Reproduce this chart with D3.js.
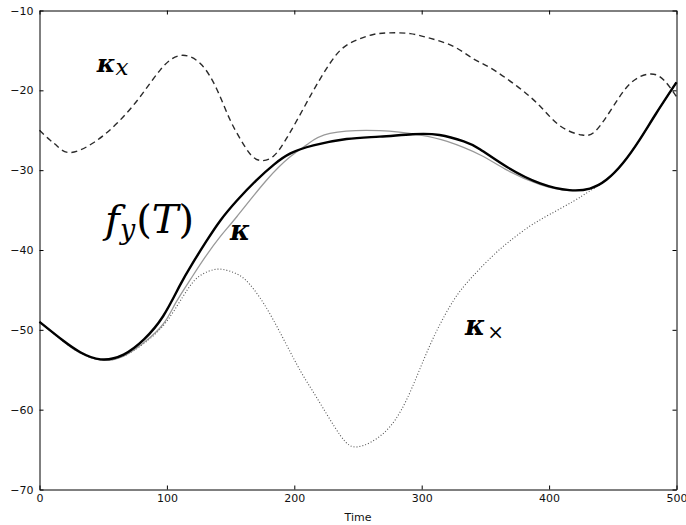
<!DOCTYPE html>
<html>
<head>
<meta charset="utf-8">
<script src="https://cdn.jsdelivr.net/npm/d3@7"></script>
<style>
  body { margin: 0; background: #fff; }
  .axis text { font-family: "DejaVu Sans", sans-serif; font-size: 11px; fill: #111; }
  .axis path, .axis line { stroke: #000; }
</style>
</head>
<body>
<svg id="chart"></svg>
<script>
// dashed curve (kappa_x)
const kxTime = [0, 8, 14, 24, 42, 61, 79, 95, 110, 126, 139, 149, 158, 166, 174, 184, 194, 204, 214, 224, 236, 249, 262, 275, 291, 307, 325, 340, 354, 375, 393, 409, 426, 437, 450, 464, 479, 490, 500];
const kxVal  = [-25.0, -26.2, -27.0, -27.8, -26.6, -24.1, -20.8, -17.4, -15.65, -16.6, -19.8, -23.5, -26.2, -28.1, -28.8, -28.2, -26.0, -23.2, -20.3, -17.6, -15.0, -13.7, -13.0, -12.8, -12.9, -13.5, -14.5, -16.0, -17.2, -19.5, -22.0, -24.5, -25.6, -25.0, -22.1, -19.1, -17.95, -18.7, -20.8];

// thick black curve f_y(T)
const fyTime = [0, 19, 32, 48, 66, 82, 97, 110, 120, 131, 142, 155, 170, 184, 197, 215, 241, 267, 293, 314, 333, 346, 367, 393, 416, 432, 445, 458, 471, 484, 500];
const fyVal  = [-49.0, -51.4, -52.8, -53.7, -53.1, -51.2, -48.3, -44.5, -41.7, -38.9, -36.3, -33.8, -31.3, -29.3, -27.9, -26.9, -26.1, -25.8, -25.5, -25.6, -26.4, -27.4, -29.6, -31.65, -32.5, -32.3, -31.2, -29.1, -26.2, -22.9, -19.0];

// thin grey curve (kappa)
const kTime = [0, 19, 32, 49, 66, 82, 97, 107, 118, 130, 142, 155, 178, 197, 210, 228, 267, 299, 320, 346, 367, 393, 416, 432, 445, 458, 471, 484, 500];
const kVal  = [-49.0, -51.5, -52.9, -53.8, -53.3, -51.6, -49.3, -46.6, -43.8, -40.9, -38.3, -35.8, -31.3, -28.3, -26.8, -25.4, -25.05, -25.6, -26.4, -28.1, -30.0, -31.8, -32.55, -32.3, -31.2, -29.1, -26.2, -22.9, -19.0];

// dotted curve (kappa_cross)
const kcTime = [0, 19, 32, 49, 66, 82, 97, 108, 116, 123, 132, 142, 152, 162, 176, 191, 205, 218, 236, 250, 270, 288, 306, 322, 335, 354, 369, 385, 401, 419, 432, 445, 458, 471, 484, 500];
const kcVal  = [-49.0, -51.5, -52.9, -53.8, -53.3, -51.7, -49.5, -47.0, -45.0, -43.6, -42.7, -42.4, -42.8, -43.8, -46.7, -51.0, -55.2, -58.6, -63.2, -64.65, -62.96, -58.8, -52.1, -47.1, -44.2, -41.0, -38.9, -37.0, -35.5, -33.9, -32.6, -31.2, -29.1, -26.2, -22.9, -19.0];

const xTicks = [0, 100, 200, 300, 400, 500];
const yTicks = [-70, -60, -50, -40, -30, -20, -10];

const W = 686, H = 525;
const padL = 39.5, padR = 676.5, padT = 10.5, padB = 489.5;

const svg = d3.select('#chart').attr('width', W).attr('height', H);

const x = d3.scaleLinear().domain([0, 500]).range([padL, padR]);
const y = d3.scaleLinear().domain([-70, -10]).range([padB, padT]);

const zip = (ts, vs) => ts.map((t, i) => [t, vs[i]]);
const line = d3.line()
  .x(d => x(d[0]))
  .y(d => y(d[1]))
  .curve(d3.curveNatural);

const plot = svg.append('g');

plot.append('path')
  .datum(zip(kcTime, kcVal))
  .attr('d', line)
  .attr('fill', 'none')
  .attr('stroke', '#555')
  .attr('stroke-width', 1.1)
  .attr('stroke-dasharray', '1,2');

plot.append('path')
  .datum(zip(kTime, kVal))
  .attr('d', line)
  .attr('fill', 'none')
  .attr('stroke', '#999')
  .attr('stroke-width', 1.3);

plot.append('path')
  .datum(zip(fyTime, fyVal))
  .attr('d', line)
  .attr('fill', 'none')
  .attr('stroke', '#000')
  .attr('stroke-width', 2.4);

plot.append('path')
  .datum(zip(kxTime, kxVal))
  .attr('d', line)
  .attr('fill', 'none')
  .attr('stroke', '#2a2a2a')
  .attr('stroke-width', 1.4)
  .attr('stroke-dasharray', '6,4');

// axes, matplotlib classic: ticks inside on all four sides
svg.append('g')
  .attr('class', 'axis')
  .attr('transform', 'translate(0,' + padB + ')')
  .call(d3.axisBottom(x).tickValues(xTicks).tickSizeInner(-4).tickSizeOuter(0).tickPadding(5));

svg.append('g')
  .attr('class', 'axis')
  .attr('transform', 'translate(' + padL + ',0)')
  .call(d3.axisLeft(y).tickValues(yTicks).tickSizeInner(-4).tickSizeOuter(0).tickPadding(6)
    .tickFormat(d => d3.format('d')(d).replace('-', '\u2212')));

svg.append('g')
  .attr('class', 'axis')
  .attr('transform', 'translate(0,' + padT + ')')
  .call(d3.axisTop(x).tickValues(xTicks).tickSizeInner(-4).tickSizeOuter(0).tickFormat(''));

svg.append('g')
  .attr('class', 'axis')
  .attr('transform', 'translate(' + padR + ',0)')
  .call(d3.axisRight(y).tickValues(yTicks).tickSizeInner(-4).tickSizeOuter(0).tickFormat(''));

svg.append('text')
  .attr('x', x(250))
  .attr('y', 521)
  .attr('text-anchor', 'middle')
  .style('font-family', '"DejaVu Sans", sans-serif')
  .style('font-size', '11px')
  .attr('fill', '#111')
  .text('Time');

// curve labels
const serif = '"DejaVu Serif", serif';

const kx = svg.append('text')
  .attr('x', x(45)).attr('y', y(-17.7))
  .attr('fill', '#000')
  .style('font-family', serif);
kx.append('tspan').style('font-weight', 'bold').style('font-style', 'italic').style('font-size', '25px').text('κ');
kx.append('tspan').attr('dy', 3).style('font-style', 'italic').style('font-size', '23px').text('x');

const fy = svg.append('text')
  .attr('x', x(51.5)).attr('y', y(-37.9))
  .attr('fill', '#000')
  .style('font-family', serif)
  .style('font-size', '40px');
fy.append('tspan').style('font-style', 'italic').text('f');
fy.append('tspan').attr('dy', 6).style('font-style', 'italic').style('font-size', '27px').text('y');
fy.append('tspan').attr('dy', -6).attr('dx', 1).text('(');
fy.append('tspan').style('font-style', 'italic').text('T');
fy.append('tspan').text(')');

svg.append('text')
  .attr('x', x(149.5)).attr('y', y(-38.75))
  .attr('fill', '#000')
  .style('font-family', serif).style('font-weight', 'bold').style('font-style', 'italic').style('font-size', '27px')
  .text('κ');

const kc = svg.append('text')
  .attr('x', x(334)).attr('y', y(-50.6))
  .attr('fill', '#000')
  .style('font-family', serif);
kc.append('tspan').style('font-weight', 'bold').style('font-style', 'italic').style('font-size', '27px').text('κ');
kc.append('tspan').attr('dy', 4).attr('dx', 2).style('font-size', '20px').text('×');
</script>
</body>
</html>
